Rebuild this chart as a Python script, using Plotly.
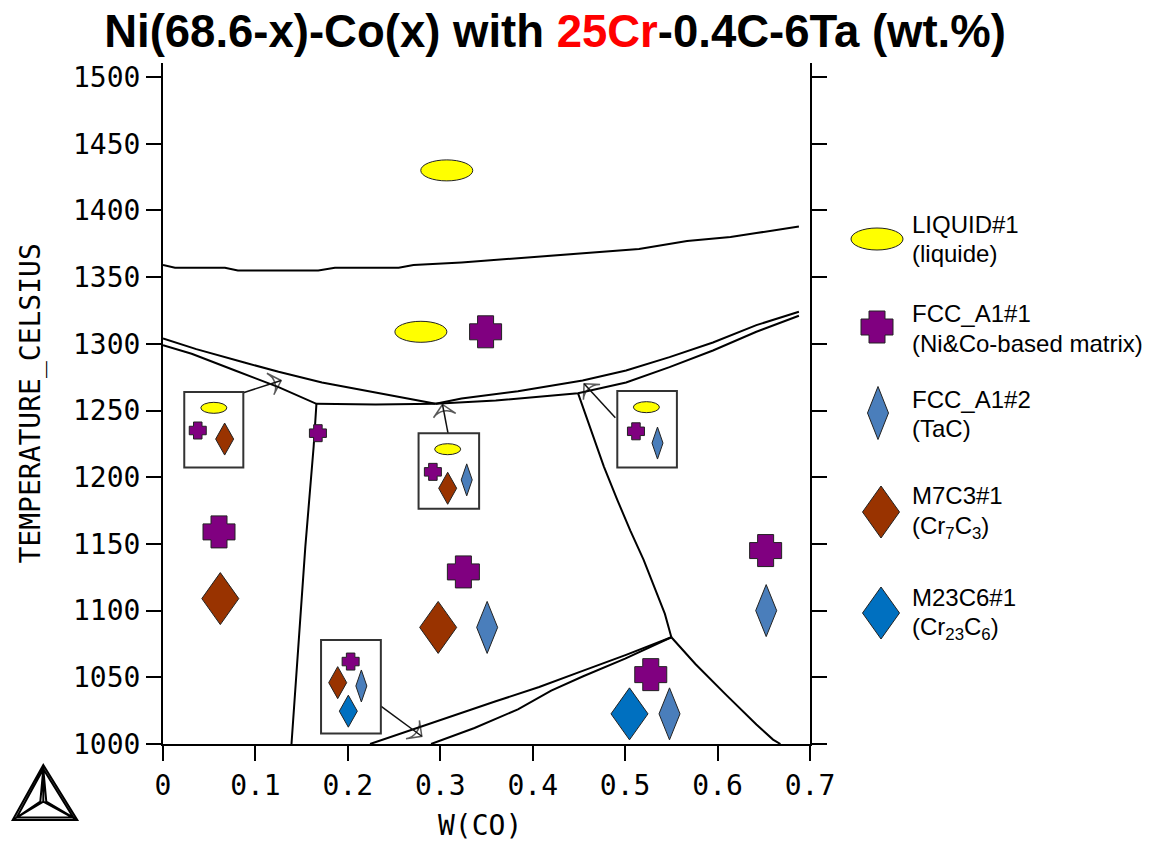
import plotly.graph_objects as go

# ---------------- data ----------------
x_tick_vals = [0, 0.1, 0.2, 0.3, 0.4, 0.5, 0.6, 0.7]
x_tick_text = ["0", "0.1", "0.2", "0.3", "0.4", "0.5", "0.6", "0.7"]
y_tick_vals = [1000, 1050, 1100, 1150, 1200, 1250, 1300, 1350, 1400, 1450, 1500]

# phase boundaries (W(Co), T in °C)
liquidus_x = [0, 0.013, 0.067, 0.081, 0.168, 0.186, 0.255, 0.271, 0.323, 0.351, 0.384, 0.45, 0.515, 0.567, 0.614, 0.642, 0.688]
liquidus_T = [1359, 1357, 1357, 1355, 1355, 1357, 1357, 1359, 1361, 1362.5, 1364, 1367.5, 1371, 1377, 1380, 1383, 1388]

solA_x = [0, 0.036, 0.088, 0.125, 0.172, 0.219, 0.295]
solA_T = [1304, 1296, 1286, 1279, 1271, 1265, 1255]

solB_x = [0, 0.031, 0.078, 0.125, 0.166, 0.23, 0.295]
solB_T = [1299, 1292.5, 1280, 1267.5, 1255, 1254.5, 1255]

solC_x = [0.295, 0.323, 0.384, 0.454, 0.501, 0.548, 0.595, 0.642, 0.688]
solC_T = [1255, 1259, 1264.5, 1272.5, 1280, 1290, 1301, 1314, 1324]

solD_x = [0.295, 0.36, 0.449, 0.501, 0.548, 0.595, 0.642, 0.688]
solD_T = [1255, 1257.5, 1263, 1271, 1282.5, 1295, 1309, 1321]

leftv_x = [0.166, 0.163, 0.154, 0.146, 0.139]
leftv_T = [1255, 1223, 1148, 1072, 1000]

rightv_x = [0.449, 0.454, 0.463, 0.477, 0.4915, 0.5056, 0.52, 0.534, 0.543, 0.55]
rightv_T = [1263, 1253, 1236, 1208, 1183, 1160, 1138, 1112.6, 1097.5, 1080]

lowr_x = [0.55, 0.576, 0.609, 0.642, 0.66, 0.668]
lowr_T = [1080, 1060, 1037, 1014.6, 1003.3, 1000]

diagG_x = [0.55, 0.501, 0.454, 0.407, 0.36, 0.313, 0.276, 0.224]
diagG_T = [1080, 1066.8, 1054.8, 1042.7, 1032, 1020.8, 1012, 1000]

diagH_x = [0.55, 0.5, 0.454, 0.42, 0.384, 0.337, 0.29]
diagH_T = [1080, 1064, 1050.6, 1040, 1026, 1012, 1000]

# phase symbols placed in the regions (large) and in the inset boxes (small)
liquid_big_x = [0.307, 0.279]
liquid_big_T = [1430, 1309]
liquid_small_x = [0.055, 0.308, 0.523]
liquid_small_T = [1252, 1221, 1252.5]

fcc1_big_x = [0.349, 0.0606, 0.325, 0.652, 0.5277]
fcc1_big_T = [1309, 1159, 1129, 1145, 1052]
fcc1_small_x = [0.0376, 0.1676, 0.292, 0.5117, 0.203]
fcc1_small_T = [1235, 1233, 1204, 1234.4, 1061.8]

fcc2_big_x = [0.3507, 0.6526, 0.548]
fcc2_big_T = [1087.4, 1100, 1022.6]
fcc2_small_x = [0.3286, 0.535, 0.2146]
fcc2_small_T = [1198, 1225.6, 1043.5]

m7c3_big_x = [0.062, 0.2977]
m7c3_big_T = [1109, 1087.4]
m7c3_small_x = [0.0667, 0.308, 0.189]
m7c3_small_T = [1228.6, 1191.7, 1046]

m23c6_big_x = [0.5047]
m23c6_big_T = [1022.6]
m23c6_small_x = [0.2005]
m23c6_small_T = [1024.6]

# inset boxes
box_x0 = [0.023, 0.2765, 0.4915, 0.171]
box_x1 = [0.0869, 0.342, 0.556, 0.2357]
box_T0 = [1207.3, 1176.4, 1207.3, 1007.8]
box_T1 = [1263.8, 1233, 1264.6, 1077.9]

# arrows from inset boxes
arrow_tail_x = [0.0869, 0.3085, 0.4894, 0.2357]
arrow_tail_T = [1263.3, 1232.5, 1244.5, 1028.4]
arrow_head_x = [0.1278, 0.3024, 0.4556, 0.280]
arrow_head_T = [1272.5, 1254.5, 1270, 1005.8]

legend_names = ["LIQUID#1", "FCC_A1#1", "FCC_A1#2", "M7C3#1", "M23C6#1"]
legend_desc = ["(liquide)", "(Ni&Co-based matrix)", "(TaC)",
               "(Cr<sub>7</sub>C<sub>3</sub>)", "(Cr<sub>23</sub>C<sub>6</sub>)"]

# ---------------- styles ----------------
C_LIQ = "#FFFF00"
C_FCC1 = "#800080"
C_FCC2 = "#4A7EBB"
C_M7 = "#993300"
C_M23 = "#0070C0"
EDGE = "#222222"
MONO = "DejaVu Sans Mono"
SANS = "Liberation Sans, Arial"

fig = go.Figure()

for bx, bt in [(liquidus_x, liquidus_T), (solA_x, solA_T), (solB_x, solB_T),
               (solC_x, solC_T), (solD_x, solD_T), (leftv_x, leftv_T),
               (rightv_x, rightv_T), (lowr_x, lowr_T), (diagG_x, diagG_T),
               (diagH_x, diagH_T)]:
    fig.add_trace(go.Scatter(x=bx, y=bt, mode="lines",
                             line=dict(color="black", width=2),
                             showlegend=False, hoverinfo="skip"))

# arrows: shaft + open head oriented along the shaft
for tx, tt, hx, ht in zip(arrow_tail_x, arrow_tail_T, arrow_head_x, arrow_head_T):
    fig.add_trace(go.Scatter(x=[tx, hx], y=[tt, ht], mode="lines+markers",
                             line=dict(color="#111111", width=1.5),
                             marker=dict(symbol=["circle", "arrow-wide-open"], size=[0, 16],
                                         angleref="previous", color="#111111",
                                         line=dict(color="#111111", width=1.5)),
                             showlegend=False, hoverinfo="skip"))

shapes = []


def base(xref, yref, xa, ya):
    return dict(xref=xref, yref=yref, xsizemode="pixel", ysizemode="pixel",
                xanchor=xa, yanchor=ya, layer="above")


def ellipse(xa, ya, w, h, color, xref="x", yref="y"):
    d = base(xref, yref, xa, ya)
    d.update(type="circle", x0=-w / 2, x1=w / 2, y0=-h / 2, y1=h / 2,
             fillcolor=color, line=dict(color=EDGE, width=1))
    return d


def diamond(xa, ya, w, h, color, xref="x", yref="y"):
    d = base(xref, yref, xa, ya)
    a, b = w / 2, h / 2
    d.update(type="path", path=f"M0,{b} L{a},0 L0,{-b} L{-a},0 Z",
             fillcolor=color, line=dict(color=EDGE, width=1))
    return d


def cross(xa, ya, s, color, xref="x", yref="y"):
    d = base(xref, yref, xa, ya)
    a, b = s / 2, s / 4
    p = (f"M{-b},{a} L{b},{a} L{b},{b} L{a},{b} L{a},{-b} L{b},{-b} L{b},{-a} "
         f"L{-b},{-a} L{-b},{-b} L{-a},{-b} L{-a},{b} L{-b},{b} Z")
    d.update(type="path", path=p, fillcolor=color, line=dict(color=EDGE, width=1))
    return d


# inset boxes (white, drawn before small symbols)
for x0, x1, t0, t1 in zip(box_x0, box_x1, box_T0, box_T1):
    shapes.append(dict(type="rect", xref="x", yref="y", x0=x0, x1=x1, y0=t0, y1=t1,
                       fillcolor="white", line=dict(color="#333333", width=2), layer="above"))

for x, t in zip(liquid_big_x, liquid_big_T):
    shapes.append(ellipse(x, t, 52, 21, C_LIQ))
for x, t in zip(liquid_small_x, liquid_small_T):
    shapes.append(ellipse(x, t, 26, 11, C_LIQ))
for x, t in zip(fcc1_big_x, fcc1_big_T):
    shapes.append(cross(x, t, 32, C_FCC1))
for x, t in zip(fcc1_small_x, fcc1_small_T):
    shapes.append(cross(x, t, 17, C_FCC1))
for x, t in zip(fcc2_big_x, fcc2_big_T):
    shapes.append(diamond(x, t, 21, 52, C_FCC2))
for x, t in zip(fcc2_small_x, fcc2_small_T):
    shapes.append(diamond(x, t, 11, 32, C_FCC2))
for x, t in zip(m7c3_big_x, m7c3_big_T):
    shapes.append(diamond(x, t, 37, 52, C_M7))
for x, t in zip(m7c3_small_x, m7c3_small_T):
    shapes.append(diamond(x, t, 18, 32, C_M7))
for x, t in zip(m23c6_big_x, m23c6_big_T):
    shapes.append(diamond(x, t, 37, 52, C_M23))
for x, t in zip(m23c6_small_x, m23c6_small_T):
    shapes.append(diamond(x, t, 18, 32, C_M23))

# legend symbols (pixel offsets from the plot's bottom-right corner)
shapes.append(ellipse(1, 0, 52, 22, C_LIQ, "paper", "paper"))
shapes[-1].update(x0=67 - 26, x1=67 + 26, y0=505 - 11, y1=505 + 11)
lg = cross(1, 0, 32, C_FCC1, "paper", "paper")
a, b = 16, 8
cx, cy = 67, 417
lg["path"] = (f"M{cx-b},{cy+a} L{cx+b},{cy+a} L{cx+b},{cy+b} L{cx+a},{cy+b} L{cx+a},{cy-b} "
              f"L{cx+b},{cy-b} L{cx+b},{cy-a} L{cx-b},{cy-a} L{cx-b},{cy-b} L{cx-a},{cy-b} "
              f"L{cx-a},{cy+b} L{cx-b},{cy+b} Z")
shapes.append(lg)
for (cx, cy, w, h, col) in [(68, 331, 21, 53, C_FCC2), (71, 232, 37, 52, C_M7), (71, 131, 37, 52, C_M23)]:
    d = diamond(1, 0, w, h, col, "paper", "paper")
    d["path"] = f"M{cx},{cy+h/2} L{cx+w/2},{cy} L{cx},{cy-h/2} L{cx-w/2},{cy} Z"
    shapes.append(d)

# Thermo-Calc logo (pixel offsets from plot's bottom-left corner)
ax_, ay_ = -119.7, -21
bl, br = (-150.3, -76), (-85.7, -76)
cc = (-119.7, -57.7)
logo = base("paper", "paper", 0, 0)
logo.update(type="path",
            path=(f"M{ax_},{ay_} L{br[0]},{br[1]} L{bl[0]},{bl[1]} Z "
                  f"M{ax_},{ay_-4} L{br[0]-4},{br[1]+2.5} L{bl[0]+4},{bl[1]+2.5} Z "
                  f"M{ax_},{ay_} L{cc[0]},{cc[1]} M{bl[0]},{bl[1]} L{cc[0]},{cc[1]} "
                  f"M{br[0]},{br[1]} L{cc[0]},{cc[1]} "
                  f"M{ax_},{ay_-4} L{cc[0]-3},{cc[1]} L{bl[0]+4},{bl[1]+2.5} "
                  f"M{ax_},{ay_-4} L{cc[0]+3},{cc[1]} L{br[0]-4},{br[1]+2.5}"),
            line=dict(color="black", width=2))
shapes.append(logo)

annotations = []
legend_name_y = [520, 431, 345, 249, 147]
legend_desc_y = [491, 401, 316, 217, 116]
for nm, ds, ny, dy in zip(legend_names, legend_desc, legend_name_y, legend_desc_y):
    annotations.append(dict(x=1, y=0, xref="paper", yref="paper", xshift=100, yshift=ny,
                            xanchor="left", yanchor="middle", text=nm, showarrow=False,
                            font=dict(family=SANS, size=24, color="black")))
    annotations.append(dict(x=1, y=0, xref="paper", yref="paper", xshift=100, yshift=dy,
                            xanchor="left", yanchor="middle", text=ds, showarrow=False,
                            font=dict(family=SANS, size=24, color="black")))

annotations.append(dict(x=0, y=0.5, xref="paper", yref="paper", xshift=-133,
                        text="TEMPERATURE_CELSIUS", textangle=-90, showarrow=False,
                        xanchor="center", yanchor="middle",
                        font=dict(family=MONO, size=28, color="black")))
annotations.append(dict(x=0.49, y=0, xref="paper", yref="paper", yshift=-81,
                        text="W(CO)", showarrow=False, xanchor="center", yanchor="middle",
                        font=dict(family=MONO, size=28, color="black")))

axis_common = dict(showline=True, linecolor="black", linewidth=2, ticks="outside",
                   ticklen=15, tickwidth=2, tickcolor="black", showgrid=False,
                   zeroline=False, tickfont=dict(family=MONO, size=28, color="black"))

fig.update_layout(
    width=1163, height=845,
    margin=dict(l=163, r=353, t=63, b=101),
    plot_bgcolor="white", paper_bgcolor="white",
    showlegend=False,
    title=dict(text='Ni(68.6-x)-Co(x) with <span style="color:#FF0000">25Cr</span>-0.4C-6Ta (wt.%)',
               x=555 / 1163, xref="container", xanchor="center",
               y=1 - 31 / 845, yref="container", yanchor="middle",
               font=dict(family=SANS, size=45.5, color="black", weight="bold")),
    xaxis=dict(range=[0, 0.7], tickvals=x_tick_vals, ticktext=x_tick_text, **axis_common),
    yaxis=dict(range=[1000, 1510.5], tickvals=y_tick_vals, mirror="ticks", **axis_common),
    shapes=shapes,
    annotations=annotations,
)

fig.write_html("out.html")
